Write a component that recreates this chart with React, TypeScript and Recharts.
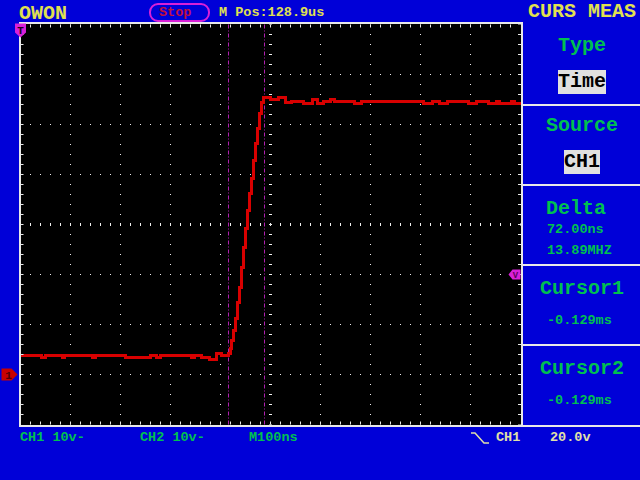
import * as React from "react";
import { LineChart, Line, XAxis, YAxis, ReferenceLine, ReferenceDot } from "recharts";

// CH1 trace, time in ns from the screen centre, level in volts
const traceTimes = [
  -500, -460, -458, -452, -450, -418, -416, -414, -412, -358, -356, -352, -350, -292, -290, -242, -240, -230, -228,
  -222, -220, -160, -158, -154, -152, -140, -138, -124, -122, -114, -108, -100, -98, -88, -84, -80, -78, -74, -70,
  -66, -62, -58, -54, -50, -46, -42, -38, -34, -30, -26, -22, -18, -14, -4, 0, 14, 16, 20, 30, 40, 42, 64, 66, 76,
  84, 88, 94, 100, 106, 118, 120, 126, 128, 166, 168, 180, 182, 304, 306, 322, 324, 336, 338, 352, 354, 394, 396,
  410, 412, 434, 436, 450, 452, 456, 458, 480, 482, 486, 488, 500,
];
const traceVolts = [
  3.8, 3.8, 3.4, 3.4, 3.8, 3.8, 3.4, 3.4, 3.8, 3.8, 3.4, 3.4, 3.8, 3.8, 3.4, 3.4, 3.8, 3.8, 3.4,
  3.4, 3.8, 3.8, 3.4, 3.4, 3.8, 3.8, 3.4, 3.4, 3.0, 3.0, 4.2, 4.2, 3.8, 3.8, 4.2, 5.2, 6.8, 8.8, 11.2,
  14.4, 17.4, 21.4, 25.4, 29.2, 32.8, 36.2, 39.2, 42.8, 46.2, 49.2, 52.2, 54.4, 55.4, 55.4, 55.0, 55.0, 55.4, 55.4, 54.4, 54.4, 54.6, 54.6, 54.2, 54.2,
  55.0, 55.0, 54.2, 54.2, 54.6, 54.6, 55.0, 55.0, 54.6, 54.6, 54.2, 54.2, 54.6, 54.6, 54.2, 54.2, 54.6, 54.6, 54.2, 54.2, 54.6, 54.6, 54.2,
  54.2, 54.6, 54.6, 54.2, 54.2, 54.6, 54.6, 54.2, 54.2, 54.6, 54.6, 54.2, 54.2,
];
const gridTimes = [-400, -300, -200, -100, 100, 200, 300, 400];
const gridVolts = [60, 50, 40, 20, 10, 0];
const cursorTimes = [-84, -12];
const edgeTimeTicks = Array.from({ length: 49 }, (_, i) => -480 + i * 20);
const edgeVoltTicks = Array.from({ length: 39 }, (_, i) => -8 + i * 2);
const separatorRows = [104, 184, 264, 344, 425];

const chartData = traceTimes.map((t, i) => ({ t, v: traceVolts[i] }));

const BLUE = "#0000d8";
const GREEN = "#00c050";
const YELLOW = "#e0e050";
const PALE = "#e0e0a8";
const WHITE = "#e8e8e8";
const MAGENTA = "#d820d8";
const RED = "#d80000";

const DOTS = { stroke: "#f0f0f0", strokeDasharray: "1 9", strokeDashoffset: 0.5 };

function Txt({ x, y, size, color, children }: { x: number; y: number; size: number; color: string; children: React.ReactNode }) {
  return (
    <div
      style={{
        position: "absolute",
        left: x,
        top: y,
        fontFamily: "'Liberation Mono', monospace",
        fontWeight: 700,
        fontSize: size,
        lineHeight: 1,
        color,
        whiteSpace: "pre",
      }}
    >
      {children}
    </div>
  );
}

function Box({ x, y, w, h, children }: { x: number; y: number; w: number; h: number; children: React.ReactNode }) {
  return (
    <div
      style={{
        position: "absolute",
        left: x,
        top: y,
        width: w,
        height: h,
        background: "#e0e0e0",
        color: "#000",
        fontFamily: "'Liberation Mono', monospace",
        fontWeight: 700,
        fontSize: 20,
        lineHeight: h + "px",
        textAlign: "center",
      }}
    >
      {children}
    </div>
  );
}

const markerText = { fontFamily: "'Liberation Mono', monospace", fontWeight: 700, fontSize: 11, textAnchor: "middle" as const };

function TriggerPosMarker({ cx, cy }: any) {
  return (
    <g>
      <polygon points={`${cx - 5.5},${cy - 1} ${cx + 5.5},${cy - 1} ${cx + 5.5},${cy + 8} ${cx},${cy + 13} ${cx - 5.5},${cy + 8}`} fill={MAGENTA} />
      <text x={cx} y={cy + 9} {...markerText} fill="#200020">T</text>
    </g>
  );
}

function GroundMarker({ cx, cy }: any) {
  return (
    <g>
      <polygon points={`${cx - 19},${cy - 6} ${cx - 9},${cy - 6} ${cx - 3},${cy} ${cx - 9},${cy + 6} ${cx - 19},${cy + 6}`} fill="#c80000" />
      <text x={cx - 12} y={cy + 4} {...markerText} fill="#500000">1</text>
    </g>
  );
}

function LevelMarker({ cx, cy }: any) {
  return (
    <g>
      <polygon points={`${cx - 12},${cy} ${cx - 8},${cy - 5} ${cx},${cy - 5} ${cx},${cy + 5} ${cx - 8},${cy + 5}`} fill={MAGENTA} />
      <text x={cx - 5} y={cy + 3} {...markerText} fontSize={9} fill="#600060">V</text>
    </g>
  );
}

export default function App() {
  const edgeTick = { tickSize: 3, tickLine: { stroke: WHITE }, axisLine: false, mirror: true, tickFormatter: () => "", interval: 0 as const };
  return (
    <div style={{ position: "absolute", left: 0, top: 0, width: 640, height: 480, background: BLUE, overflow: "hidden" }}>
      {/* screen frame and menu separators */}
      <div style={{ position: "absolute", left: 19, top: 22, width: 500, height: 401, background: "#000", border: `2px solid ${WHITE}` }} />
      {separatorRows.map((row) => (
        <div key={row} style={{ position: "absolute", left: 521, top: row, width: 119, height: 2, background: WHITE }} />
      ))}

      <div style={{ position: "absolute", left: 0, top: 0 }}>
        <LineChart width={640} height={480} data={chartData} margin={{ top: 24.5, right: 119.5, bottom: 55.5, left: 20.5 }}>
          <XAxis xAxisId="bottom" dataKey="t" type="number" domain={[-500, 500]} ticks={edgeTimeTicks} height={1} orientation="bottom" {...edgeTick} />
          <XAxis xAxisId="top" dataKey="t" type="number" domain={[-500, 500]} ticks={edgeTimeTicks} height={1} orientation="top" {...edgeTick} />
          <YAxis yAxisId="left" type="number" domain={[-10, 70]} ticks={edgeVoltTicks} width={1} orientation="left" {...edgeTick} />

          {gridTimes.map((t) => (
            <ReferenceLine key={t} x={t} xAxisId="bottom" yAxisId="left" {...DOTS} />
          ))}
          {gridVolts.map((v) => (
            <ReferenceLine key={v} y={v} xAxisId="bottom" yAxisId="left" {...DOTS} />
          ))}
          <ReferenceLine x={0} xAxisId="bottom" yAxisId="left" {...DOTS} strokeWidth={3} />
          <ReferenceLine y={30} xAxisId="bottom" yAxisId="left" {...DOTS} strokeWidth={3} />
          {/* right edge ticks */}
          <ReferenceLine x={498} xAxisId="bottom" yAxisId="left" stroke={WHITE} strokeDasharray="1 9" strokeDashoffset={0.5} strokeWidth={3} />

          {cursorTimes.map((t) => (
            <ReferenceLine key={t} x={t} xAxisId="bottom" yAxisId="left" stroke="#b020b0" strokeDasharray="4 2 1 2" />
          ))}

          <Line xAxisId="bottom" yAxisId="left" type="stepAfter" dataKey="v" stroke={RED} strokeWidth={2.5} shapeRendering="crispEdges" dot={false} isAnimationActive={false} />

          <ReferenceDot xAxisId="bottom" yAxisId="left" x={-500} y={70} ifOverflow="visible" shape={<TriggerPosMarker />} />
          <ReferenceDot xAxisId="bottom" yAxisId="left" x={-500} y={0} ifOverflow="visible" shape={<GroundMarker />} />
          <ReferenceDot xAxisId="bottom" yAxisId="left" x={500} y={20} ifOverflow="visible" shape={<LevelMarker />} />
        </LineChart>
      </div>

      {/* top status bar */}
      <Txt x={19} y={4} size={20} color={YELLOW}>OWON</Txt>
      <div style={{ position: "absolute", left: 149, top: 3, width: 57, height: 15, border: `2px solid ${MAGENTA}`, borderRadius: 9 }} />
      <Txt x={159} y={6} size={13.5} color="#c01040">Stop</Txt>
      <Txt x={219} y={6} size={13.5} color={YELLOW}>M Pos:128.9us</Txt>
      <Txt x={528} y={2} size={20} color={YELLOW}>CURS MEAS</Txt>

      {/* cursor menu */}
      <Txt x={558} y={36} size={20} color={GREEN}>Type</Txt>
      <Box x={558} y={70} w={48} h={24}>Time</Box>
      <Txt x={546} y={116} size={20} color={GREEN}>Source</Txt>
      <Box x={564} y={150} w={36} h={24}>CH1</Box>
      <Txt x={546} y={199} size={20} color={GREEN}>Delta</Txt>
      <Txt x={547} y={223} size={13.5} color={GREEN}>72.00ns</Txt>
      <Txt x={547} y={244} size={13.5} color={GREEN}>13.89MHZ</Txt>
      <Txt x={540} y={279} size={20} color={GREEN}>Cursor1</Txt>
      <Txt x={547} y={314} size={13.5} color={GREEN}>-0.129ms</Txt>
      <Txt x={540} y={359} size={20} color={GREEN}>Cursor2</Txt>
      <Txt x={547} y={394} size={13.5} color={GREEN}>-0.129ms</Txt>

      {/* bottom status bar */}
      <Txt x={20} y={431} size={13.5} color={GREEN}>CH1 10v-</Txt>
      <Txt x={140} y={431} size={13.5} color={GREEN}>CH2 10v-</Txt>
      <Txt x={249} y={431} size={13.5} color={GREEN}>M100ns</Txt>
      <svg style={{ position: "absolute", left: 468, top: 430, width: 24, height: 16 }}>
        <polyline points="3,3 7,3 16,13 21,13" fill="none" stroke={PALE} strokeWidth={1.5} />
      </svg>
      <Txt x={496} y={431} size={13.5} color={PALE}>CH1</Txt>
      <Txt x={550} y={431} size={13.5} color={PALE}>20.0v</Txt>
    </div>
  );
}
